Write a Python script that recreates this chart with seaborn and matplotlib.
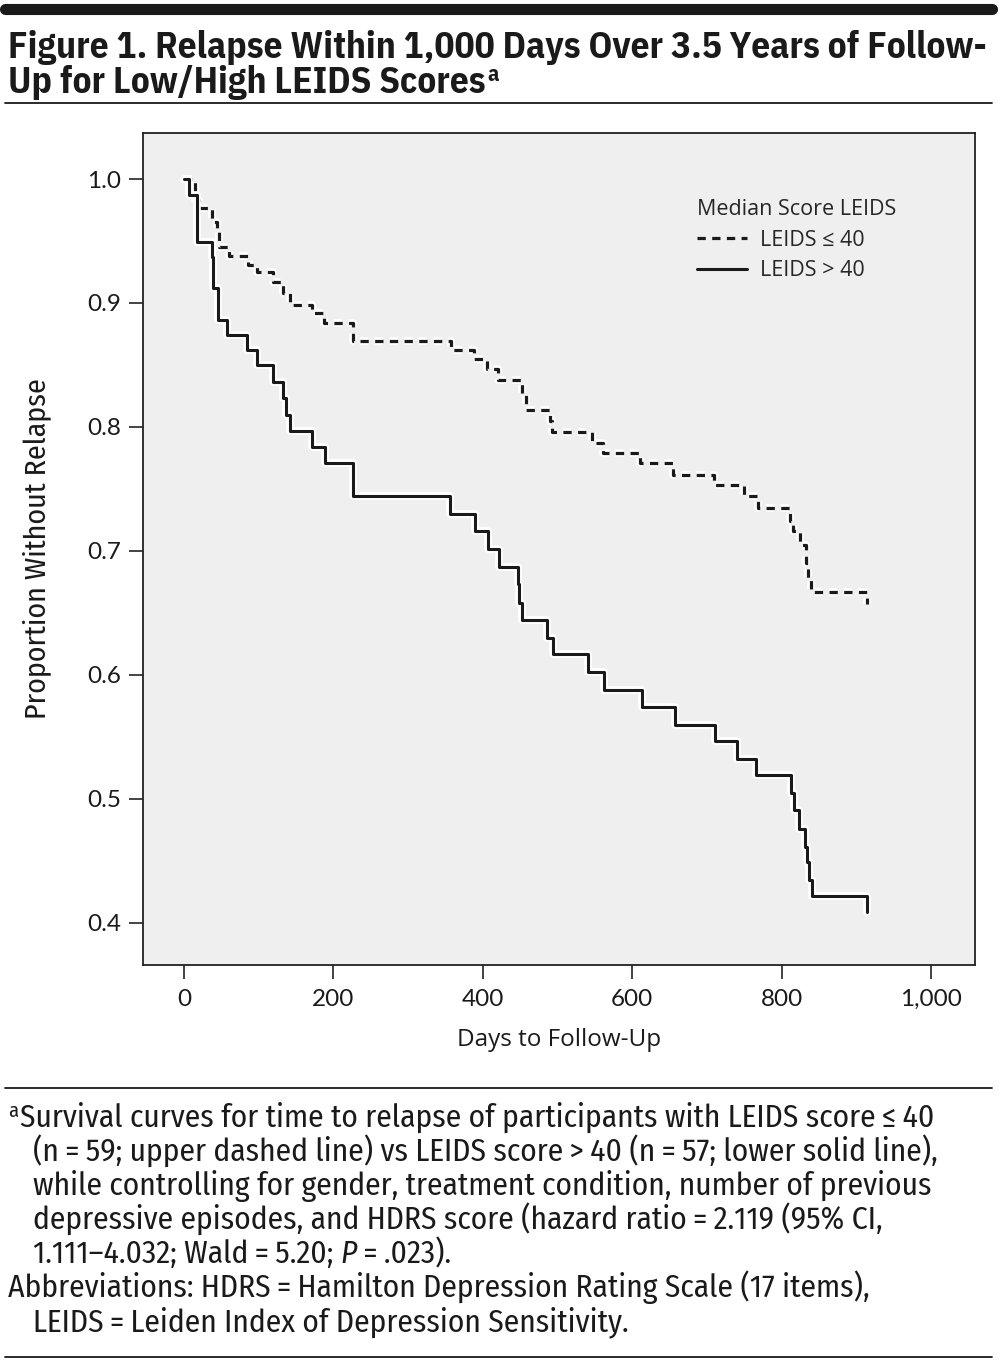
import matplotlib
matplotlib.use("Agg")
import math
import matplotlib.pyplot as plt
import matplotlib.patheffects as pe
from matplotlib import font_manager as fm
from matplotlib.textpath import TextPath
from matplotlib.font_manager import FontProperties
import seaborn as sns
import pandas as pd

# ---- data ----
low_days = [0, 15, 20, 38, 44, 47, 60, 86, 98, 119, 132, 142, 171, 187, 226, 358, 388, 405,
            420, 452, 458, 490, 493, 546, 561, 610, 655, 710, 750, 768, 811, 815, 825, 832,
            836, 840, 914]
low_surv = [1.0, 0.983, 0.977, 0.965, 0.957, 0.945, 0.938, 0.931, 0.925, 0.917, 0.908, 0.898,
            0.892, 0.884, 0.869, 0.862, 0.855, 0.847, 0.838, 0.826, 0.814, 0.805, 0.796, 0.787,
            0.779, 0.771, 0.761, 0.753, 0.744, 0.735, 0.724, 0.716, 0.705, 0.690, 0.677, 0.667,
            0.657]

high_days = [0, 7, 17, 37, 39, 45, 58, 84, 98, 119, 132, 137, 142, 171, 189, 226, 356, 390,
             407, 422, 447, 449, 452, 486, 494, 541, 562, 613, 657, 711, 740, 766, 813, 816,
             823, 831, 834, 837, 841, 914]
high_surv = [1.0, 0.987, 0.949, 0.937, 0.912, 0.886, 0.874, 0.862, 0.850, 0.836, 0.823, 0.810,
             0.797, 0.784, 0.771, 0.744, 0.730, 0.716, 0.702, 0.687, 0.673, 0.658, 0.644, 0.630,
             0.617, 0.602, 0.588, 0.574, 0.560, 0.547, 0.532, 0.519, 0.505, 0.491, 0.476, 0.461,
             0.449, 0.435, 0.422, 0.409]

group_labels = ["LEIDS \u2264 40", "LEIDS > 40"]
x_ticks = [0, 200, 400, 600, 800, 1000]
x_ticklabels = ["0", "200", "400", "600", "800", "1,000"]
y_ticks = [0.4, 0.5, 0.6, 0.7, 0.8, 0.9, 1.0]
y_ticklabels = ["0.4", "0.5", "0.6", "0.7", "0.8", "0.9", "1.0"]

T = "\u2009"
title_lines = ["Figure 1. Relapse Within 1,000 Days Over 3.5 Years of Follow-",
               "Up for Low/High LEIDS Scores"]
# each footnote line is a list of (text, italic) segments
foot_lines = [
    [("Survival curves for time to relapse of participants with LEIDS score" + T + "\u2264" + T + "40", False)],
    [("(n" + T + "=" + T + "59; upper dashed line) vs LEIDS score" + T + ">" + T + "40 (n" + T + "=" + T + "57; lower solid line),", False)],
    [("while controlling for gender, treatment condition, number of previous", False)],
    [("depressive episodes, and HDRS score (hazard ratio" + T + "=" + T + "2.119 (95% CI,", False)],
    [("1.111\u20134.032; Wald" + T + "=" + T + "5.20; ", False), ("P", True), (T + "=" + T + ".023).", False)],
    [("Abbreviations: HDRS" + T + "=" + T + "Hamilton Depression Rating Scale (17 items),", False)],
    [("LEIDS" + T + "=" + T + "Leiden Index of Depression Sensitivity.", False)],
]
foot_x = [20, 33, 33, 33, 33, 8, 33]

df_low = pd.DataFrame({"day": low_days, "surv": low_surv})
df_high = pd.DataFrame({"day": high_days, "surv": high_surv})

sns.set_theme(style="white")
installed = {f.name for f in fm.fontManager.ttflist}
cond_candidates = ["PT Sans Narrow", "Roboto Condensed", "Asap Condensed", "Barlow Semi Condensed",
                   "Fira Sans Condensed", "Encode Sans Condensed", "IBM Plex Sans Condensed",
                   "Archivo Narrow", "Sofia Sans Condensed", "Saira Semi Condensed"]
cond_avail = [c for c in cond_candidates if c in installed]
if not cond_avail:
    cond_avail = ["DejaVu Sans"]

PX_PER_PT = 100 / 72.0

def pick(sample, weight, target_w, target_cap):
    best = None
    for fam in cond_avail:
        try:
            fp = FontProperties(family=fam, weight=weight)
            w = TextPath((0, 0), sample, size=100, prop=fp).get_extents().width * PX_PER_PT
            c = TextPath((0, 0), "H", size=100, prop=fp).get_extents().height * PX_PER_PT
        except Exception:
            continue
        if w <= 0 or c <= 0:
            continue
        size_w = 100 * target_w / w
        size_c = 100 * target_cap / c
        score = abs(math.log(size_w / size_c))
        if best is None or score < best[0]:
            best = (score, fam, size_w)
    if best is None:
        return "DejaVu Sans", 16.0
    return best[1], best[2]

title_fam, title_size = pick(title_lines[0], "bold", 977, 25)
foot_fam, foot_size = pick(foot_lines[0][0][0], "normal", 915, 20)
narrow_title = [title_fam, "DejaVu Sans"]
narrow = [foot_fam, "DejaVu Sans"]
regular = ["Open Sans", "DejaVu Sans"]
plt.rcParams["font.family"] = narrow

W, H = 999, 1365
fig = plt.figure(figsize=(W / 100, H / 100), dpi=100)
fig.patch.set_facecolor("white")

def fx(px):
    return px / W

def fy(py):
    return 1 - py / H

ax = fig.add_axes([fx(143), fy(965), fx(975) - fx(143), fy(133) - fy(965)])
ax.set_facecolor("#efefef")

halo = [pe.Stroke(linewidth=5.5, foreground="white"), pe.Normal()]
sns.lineplot(data=df_low, x="day", y="surv", ax=ax, drawstyle="steps-post",
             estimator=None, sort=False, color="#1a1a1a", linewidth=2.3,
             linestyle=(0, (2.6, 2.0)), label=group_labels[0], path_effects=halo)
sns.lineplot(data=df_high, x="day", y="surv", ax=ax, drawstyle="steps-post",
             estimator=None, sort=False, color="#1a1a1a", linewidth=2.2,
             linestyle="-", label=group_labels[1], path_effects=halo)

ax.set_xlim(-54.9, 1058.9)
ax.set_ylim(0.3661, 1.0371)
ax.set_xticks(x_ticks)
ax.set_xticklabels(x_ticklabels, fontsize=17.5, family=["Lato", "DejaVu Sans"])
ax.set_yticks(y_ticks)
ax.set_yticklabels(y_ticklabels, fontsize=17.5, family=["Lato", "DejaVu Sans"])
ax.tick_params(axis="both", which="major", direction="out", length=10, width=1.2,
               color="#222222", labelcolor="#1a1a1a", bottom=True, left=True)
ax.tick_params(axis="x", pad=7)
ax.tick_params(axis="y", pad=6)
for s in ax.spines.values():
    s.set_visible(True)
    s.set_color("#222222")
    s.set_linewidth(1.3)

ax.set_xlabel("Days to Follow-Up", fontsize=17.5, color="#1a1a1a", labelpad=13,
              family=regular)
ax.set_ylabel("Proportion Without Relapse", fontsize=foot_size * 0.98, color="#1a1a1a",
              labelpad=26, family=narrow)

leg = ax.legend(title="Median Score LEIDS", loc="upper left",
                bbox_to_anchor=(0.643, 0.944), frameon=False,
                handlelength=2.3, handletextpad=0.6, labelspacing=0.45,
                prop={"family": regular, "size": 15.5})
leg._legend_box.align = "left"
leg.get_title().set_family(regular)
leg.get_title().set_fontsize(15.5)
for h in leg.legend_handles:
    h.set_path_effects([])

# header and rules
fig.add_artist(plt.Line2D([fx(5), fx(992)], [fy(9), fy(9)], color="#1a1a1a",
                          linewidth=8, transform=fig.transFigure))
for yy in (103, 1088, 1357):
    fig.add_artist(plt.Line2D([fx(5), fx(992)], [fy(yy), fy(yy)], color="#1a1a1a",
                              linewidth=1.3, transform=fig.transFigure))

fig.canvas.draw()
renderer = fig.canvas.get_renderer()

t1 = fig.text(fx(8), fy(58), title_lines[0], fontsize=title_size, fontweight="bold",
              color="#1a1a1a", va="baseline", ha="left", family=narrow_title)
w1 = t1.get_window_extent(renderer).width
title_size = min(title_size * 977 / w1, title_size * 1.03)
t1.set_fontsize(title_size)
t2 = fig.text(fx(8), fy(93), title_lines[1], fontsize=title_size, fontweight="bold",
              color="#1a1a1a", va="baseline", ha="left", family=narrow_title)
x_end = t2.get_window_extent(renderer).x1
fig.text((x_end + 2) / W, fy(81), "a", fontsize=title_size * 0.6, fontweight="bold",
         color="#1a1a1a", va="baseline", ha="left", family=narrow_title)

# calibrate footnote size on the first line's rendered width
probe = fig.text(0, 0, foot_lines[0][0][0], fontsize=foot_size, family=narrow)
pw = probe.get_window_extent(renderer).width
probe.remove()
foot_size = foot_size * 915 / pw

fig.text(fx(8), fy(1117), "a", fontsize=foot_size * 0.65, color="#1a1a1a", va="baseline",
         ha="left", family=narrow)
for i, segs in enumerate(foot_lines):
    xpos = foot_x[i]
    ybase = 1127 + i * 34
    for txt, ital in segs:
        t = fig.text(xpos / W, fy(ybase), txt, fontsize=foot_size, color="#1a1a1a",
                     va="baseline", ha="left", family=narrow,
                     style="italic" if ital else "normal")
        bb = t.get_window_extent(renderer)
        xpos = bb.x1

fig.savefig("out.png", dpi=100, facecolor="white")
